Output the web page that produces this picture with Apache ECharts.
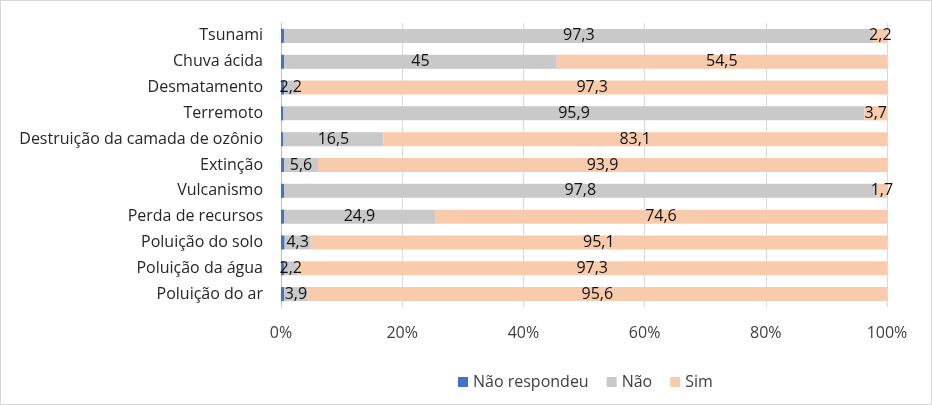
<!DOCTYPE html>
<html><head><meta charset="utf-8">
<script src="https://cdn.jsdelivr.net/npm/echarts@6/dist/echarts.min.js"></script>
<style>html,body{margin:0;padding:0;background:#fff}#c{width:932px;height:405px}</style>
</head><body><div id="c"></div>
<script>
const categories = ["Tsunami","Chuva ácida","Desmatamento","Terremoto","Destruição da camada de ozônio","Extinção","Vulcanismo","Perda de recursos","Poluição do solo","Poluição da água","Poluição do ar"];
const naoRespondeu = [0.5,0.5,0.5,0.4,0.4,0.5,0.5,0.5,0.6,0.5,0.5];
const nao = [97.3,45,2.2,95.9,16.5,5.6,97.8,24.9,4.3,2.2,3.9];
const sim = [2.2,54.5,97.3,3.7,83.1,93.9,1.7,74.6,95.1,97.3,95.6];
const xTicks = [0,20,40,60,80,100];

const FONT = '"Open Sans", "Noto Sans", sans-serif';
const fmt = p => String(p.value).replace('.', ',');
const chart = echarts.init(document.getElementById('c'));
chart.setOption({
  animation:false,
  textStyle:{fontFamily:FONT},
  graphic:[{type:'rect',shape:{x:0.5,y:0.5,width:931,height:404},style:{fill:'none',stroke:'#d9d9d9',lineWidth:1},silent:true}],
  grid:{left:281,right:45,top:23,bottom:98},
  xAxis:{type:'value',min:xTicks[0],max:xTicks[xTicks.length-1],interval:20,
    axisLine:{show:false},axisTick:{show:false},
    splitLine:{lineStyle:{color:'#d9d9d9',width:1}},
    axisLabel:{formatter:'{value}%',color:'#404040',fontSize:16,fontFamily:FONT,margin:18}},
  yAxis:{type:'category',data:categories,inverse:true,
    axisLine:{show:true,lineStyle:{color:'#bfbfbf'}},axisTick:{show:false},
    axisLabel:{color:'#262626',fontSize:16,fontFamily:FONT,margin:18}},
  legend:{bottom:10,left:453,itemWidth:10,itemHeight:10,itemGap:18,icon:'rect',
    textStyle:{color:'#404040',fontSize:16,fontFamily:FONT},
    data:['Não respondeu','Não','Sim']},
  series:[
    {name:'Não respondeu',type:'bar',stack:'t',data:naoRespondeu,barWidth:14,
      itemStyle:{color:'#4472c4'},label:{show:false}},
    {name:'Não',type:'bar',stack:'t',data:nao,barWidth:14,
      itemStyle:{color:'#c9c9c9'},
      label:{show:true,position:'inside',formatter:fmt,color:'#111',fontSize:16,fontFamily:FONT}},
    {name:'Sim',type:'bar',stack:'t',data:sim,barWidth:14,
      itemStyle:{color:'#f8cbad'},
      label:{show:true,position:'inside',formatter:fmt,color:'#111',fontSize:16,fontFamily:FONT}}
  ]
});
</script></body></html>
